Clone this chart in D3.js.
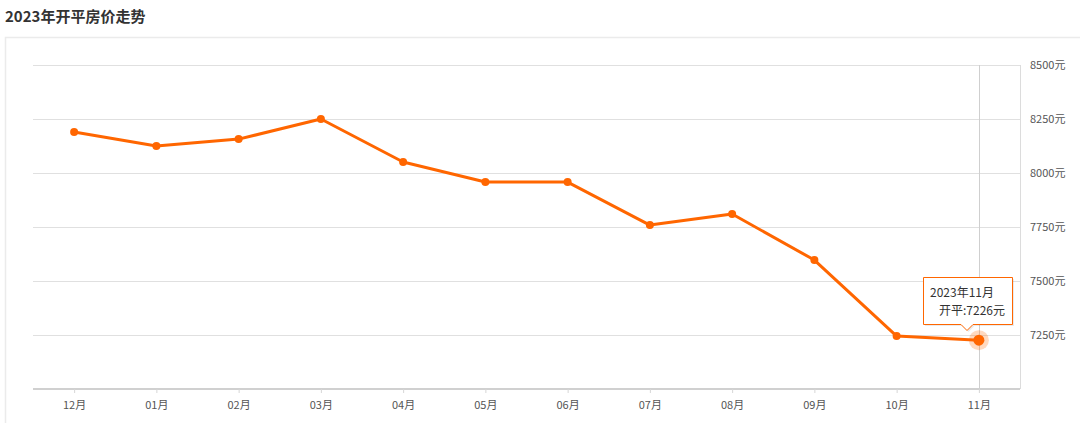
<!DOCTYPE html>
<html><head><meta charset="utf-8">
<script src="https://cdn.jsdelivr.net/npm/d3@7/dist/d3.min.js"></script>
<style>
html,body{margin:0;padding:0;background:#fff;}
svg{display:block;font-family:"Noto Sans CJK SC","Open Sans",sans-serif;}
</style></head>
<body><svg id="c" width="1080" height="423"></svg>
<script>
const title = "2023年开平房价走势";
const months = ["12月","01月","02月","03月","04月","05月","06月","07月","08月","09月","10月","11月"];
const prices = [8190,8125,8157,8250,8051,7958,7958,7759,7810,7597,7245,7226];
const yTicks = [7250,7500,7750,8000,8250,8500];
const tipTitle = "2023年11月";
const tipLabel = "开平";

const svg = d3.select("#c");
const L = 33, R = 1020, T = 65, B = 389;

// title
svg.append("text").attr("x",5).attr("y",22).attr("font-size",15).attr("font-weight","bold")
  .attr("fill","#333").text(title);
// outer panel
svg.append("rect").attr("x",5.5).attr("y",37.5).attr("width",1100).attr("height",420)
  .attr("fill","none").attr("stroke","#ebebeb").attr("stroke-width",1.5);

const x = d3.scalePoint().domain(months).range([L,R]).padding(0.5);
const y = d3.scaleLinear().domain([7000,8500]).range([B,T]);

// grid
svg.append("g").selectAll("line").data(yTicks).join("line")
  .attr("x1",L).attr("x2",R).attr("y1",d=>Math.round(y(d))+0.5).attr("y2",d=>Math.round(y(d))+0.5)
  .attr("stroke","#e0e0e0").attr("stroke-width",1);
// right border
svg.append("line").attr("x1",R+0.5).attr("x2",R+0.5).attr("y1",T).attr("y2",B)
  .attr("stroke","#dcdcdc").attr("stroke-width",1);

// y labels
svg.append("g").selectAll("text").data(yTicks).join("text")
  .attr("x",1030).attr("y",d=>y(d)+4).attr("font-size",11).attr("fill","#555")
  .text(d=>d+"元");

// x axis
const xa = svg.append("g").attr("transform",`translate(0,${B})`)
  .call(d3.axisBottom(x).tickSize(4).tickSizeOuter(0).tickPadding(8));
xa.select(".domain").attr("stroke","#d0d0d0").attr("stroke-width",2).attr("d",`M${L},0H${R}`);
xa.selectAll(".tick line").attr("stroke","#d6d6d6");
xa.selectAll(".tick text").attr("font-size",11).attr("fill","#555")
  .attr("font-family","'Noto Sans CJK SC','Open Sans',sans-serif");

// crosshair
const last = months.length-1;
svg.append("line").attr("x1",Math.round(x(months[last]))+0.5).attr("x2",Math.round(x(months[last]))+0.5)
  .attr("y1",T).attr("y2",B).attr("stroke","#cfcfcf").attr("stroke-width",1);

// line
const color = "#ff6600";
svg.append("path").datum(prices)
  .attr("d",d3.line().x((d,i)=>x(months[i])).y(d=>y(d)))
  .attr("fill","none").attr("stroke",color).attr("stroke-width",3).attr("stroke-linejoin","round");
svg.append("g").selectAll("circle").data(prices.slice(0,last)).join("circle")
  .attr("cx",(d,i)=>x(months[i])).attr("cy",d=>y(d)).attr("r",4).attr("fill",color);

// highlighted point
const hx = x(months[last]), hy = y(prices[last]);
svg.append("circle").attr("cx",hx).attr("cy",hy).attr("r",10).attr("fill",color).attr("opacity",0.25);
svg.append("circle").attr("cx",hx).attr("cy",hy).attr("r",5.5).attr("fill",color);

// tooltip
const bx = 923.5, by = 277.5, bw = 89, bh = 47, px = 967;
const tp = `M${bx},${by}H${bx+bw}V${by+bh}H${px+6}L${px},${by+bh+6}L${px-6},${by+bh}H${bx}Z`;
svg.append("path").attr("d",tp).attr("fill","#000").attr("opacity",0.08).attr("transform","translate(1.5,1.5)");
svg.append("path").attr("d",tp).attr("fill","#fff").attr("stroke",color).attr("stroke-width",1);
svg.append("text").attr("x",930).attr("y",297).attr("font-size",12).attr("fill","#333").text(tipTitle);
svg.append("text").attr("x",1005).attr("y",315).attr("text-anchor","end").attr("font-size",12).attr("fill","#333")
  .text(tipLabel+":"+prices[last]+"元");
</script></body></html>
